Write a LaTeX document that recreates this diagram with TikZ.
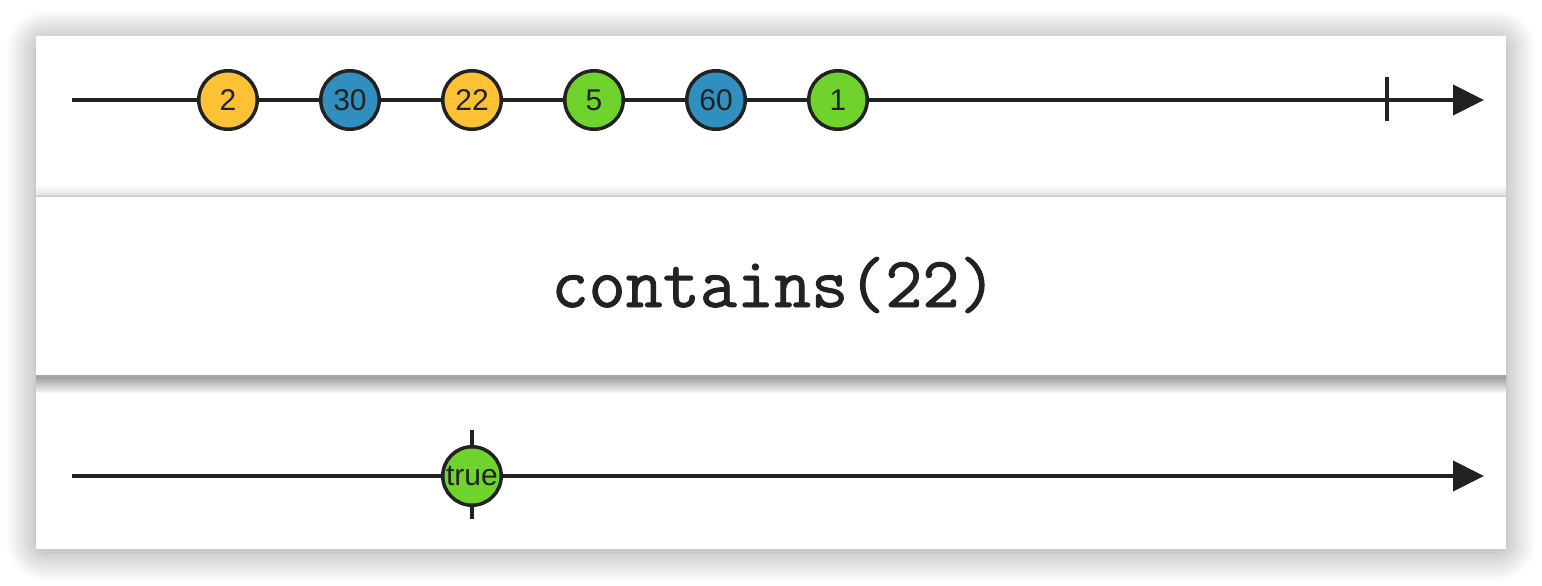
\documentclass[tikz,border=0pt]{standalone}
\usepackage{fontspec}
\setmainfont{Liberation Sans}
\newfontfamily\opfont[FakeBold=1.2]{Latin Modern Mono}
\usepackage{xcolor}
\usetikzlibrary{arrows.meta,positioning,shadows.blur}
\definecolor{marbleyellow}{HTML}{FDC136}
\definecolor{marbleblue}{HTML}{318FC0}
\definecolor{marblegreen}{HTML}{6FD32B}
\definecolor{ink}{HTML}{222222}

\begin{document}
\begin{tikzpicture}[
    x=1pt, y=-1pt,
    node distance=60pt,
    font=\fontsize{30}{33}\selectfont,
    marble/.style={circle, draw=ink, line width=3.5pt, minimum size=58.5pt, inner sep=0pt, text=ink},
    timeline/.style={draw=ink, line width=4pt, -{Triangle[length=31pt,width=30pt]}},
    tickmark/.style={draw=ink, line width=3.5pt}
]
    \useasboundingbox (0,0) rectangle (1542,586);

    % Panel with shadow
    \fill[white, blur shadow={shadow xshift=0pt, shadow yshift=-3pt, shadow blur radius=30pt, shadow blur extra rounding=10pt, shadow blur steps=40, shadow opacity=40}]
        (36,36) rectangle (1506,549);
    \shade[top color=white, bottom color=black!12] (36,184) rectangle (1506,196);
    \draw[black!18, line width=1.5pt] (36,196) -- (1506,196);
    \shade[top color=black!40, bottom color=white] (36,376) rectangle (1506,394);
    \draw[black!35, line width=1.5pt] (36,376) -- (1506,376);

    % Source stream
    \coordinate (srcstart) at (72,100);
    \coordinate (srcend) at (1484,100);
    \draw[timeline] (srcstart) -- (srcend);
    \draw[tickmark] (1387,77) -- (1387,121);
    \node[marble, fill=marbleyellow] (m2) at (228,100) {2};
    \node[marble, fill=marbleblue, right=of m2] (m30) {30};
    \node[marble, fill=marbleyellow, right=of m30] (m22) {22};
    \node[marble, fill=marblegreen, right=of m22] (m5) {5};
    \node[marble, fill=marbleblue, right=of m5] (m60) {60};
    \node[marble, fill=marblegreen, right=of m60] (m1) {1};

    % Operator
    \node[font=\opfont\fontsize{72}{78}\selectfont, text=ink, anchor=base] (op) at (774,307) {contains(22)};

    % Result stream
    \coordinate (resstart) at (72,476);
    \coordinate (resend) at (1484,476);
    \draw[timeline] (resstart) -- (resend);
    \draw[tickmark] (472,430) -- (472,519);
    \node[marble, fill=marblegreen] (mtrue) at (472,476) {true};
\end{tikzpicture}
\end{document}
